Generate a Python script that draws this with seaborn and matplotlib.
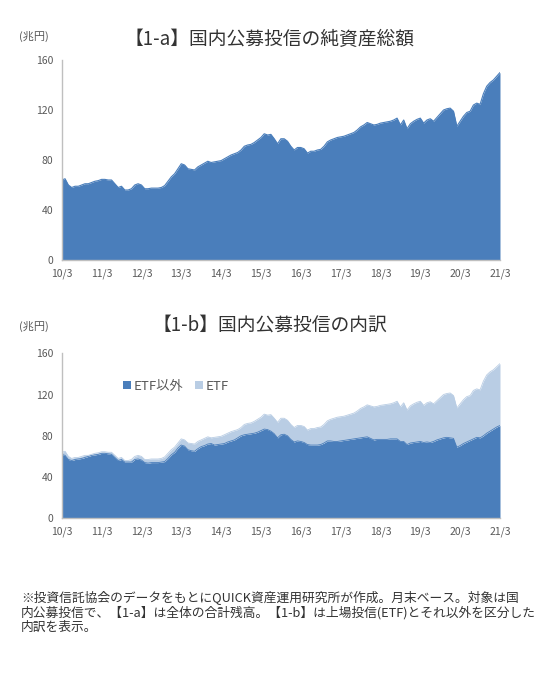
import numpy as np
import pandas as pd
import matplotlib
matplotlib.use("Agg")
import matplotlib.pyplot as plt
import seaborn as sns

# ---- data (兆円, month-end, 2010/3 .. 2021/3) ----
total = [64, 65, 60, 58, 59, 59, 60, 61, 61, 62, 63, 63.5,
         64.5, 64.5, 64, 64, 61, 58, 59, 56, 56, 57, 60, 61,
         60, 57, 57, 57.5, 57.5, 57.5, 58, 59.5, 63, 66.5, 69, 73,
         77, 76, 73, 72.5, 72, 74.5, 76, 77.5, 79, 78, 78.5, 79,
         79.5, 81, 82.5, 84, 85, 86, 88, 91, 92, 92.5, 94, 96,
         98, 101, 100, 100.5, 97, 93, 97, 97, 95, 91, 88, 90,
         90, 89, 85.5, 87, 87, 88, 88.5, 91, 94.5, 96, 97, 98,
         98.5, 99, 100, 101, 102, 104, 106.5, 108, 110, 109, 108, 108.5,
         109.5, 110, 110.5, 111, 112, 113.5, 108, 112, 105, 109, 111, 112.5,
         113.5, 109.5, 112, 113, 111, 114, 117, 120, 121, 121.5, 119, 107,
         111, 115, 118, 119, 124, 125.5, 124.5, 133, 139, 142, 144, 147,
         150]
non_etf = [62, 61, 57, 56, 57, 57.5, 58, 59, 60, 61, 61.5, 62,
           63, 63, 62.5, 62, 59, 56, 57, 54.5, 54.5, 54.5, 57, 57.5,
           56.5, 54, 53.5, 54, 54, 54, 54.5, 55, 58, 61.5, 64, 68,
           71, 70, 66.5, 65.5, 65, 67.5, 69.5, 70.5, 72, 72.5, 71, 71.5,
           72, 72.5, 74, 75, 76, 78, 80, 81, 81.5, 82, 82.5, 83.5,
           85, 86.5, 86, 84.5, 82, 78, 81, 81.5, 80, 76.5, 74, 75,
           74.5, 73.5, 71.5, 71, 71, 71, 71.5, 73, 75, 75, 74.5, 74.5,
           75, 75.5, 76, 76.5, 77, 77.5, 78, 78.5, 79, 77.5, 76, 76.5,
           76.5, 76.5, 76.5, 77, 77, 77, 74.5, 74.5, 71.5, 73, 73.5, 74,
           74.5, 73.5, 74, 73.5, 74.5, 76, 77, 78, 78.5, 78, 77.5, 69,
           70.5, 72.5, 74, 75.5, 77, 78.5, 78, 80, 82.5, 84.5, 86.5, 88.5,
           90]
year_labels = ["10/3", "11/3", "12/3", "13/3", "14/3", "15/3",
               "16/3", "17/3", "18/3", "19/3", "20/3", "21/3"]
y_ticks = [0, 40, 80, 120, 160]
title_a = "【1-a】国内公募投信の純資産総額"
title_b = "【1-b】国内公募投信の内訳"
unit = "(兆円)"
legend_labels = ["ETF以外", "ETF"]
note = ("※投資信託協会のデータをもとにQUICK資産運用研究所が作成。月末ベース。対象は国\n"
        "内公募投信で、【1-a】は全体の合計残高。【1-b】は上場投信(ETF)とそれ以外を区分した\n"
        "内訳を表示。")

df = pd.DataFrame({"m": np.arange(len(total)), "total": total, "non_etf": non_etf})
df["etf"] = df["total"] - df["non_etf"]

sns.set_theme(style="white")
plt.rcParams["font.family"] = ["Noto Sans CJK JP", "DejaVu Sans"]

DARK = "#4A7EBB"
LIGHT = "#B9CDE4"
AX = "#BFBFBF"
TXT = "#595959"

fig = plt.figure(figsize=(5.4, 6.88), dpi=100)
ax1 = fig.add_axes([0.1143, 0.6221, 0.8116, 0.2907])
ax2 = fig.add_axes([0.1143, 0.2467, 0.8116, 0.2398])


def style(ax):
    ax.set_xlim(0, len(total) - 1)
    ax.set_ylim(0, 160)
    ax.set_xticks(np.arange(0, len(total), 12))
    ax.set_xticklabels(year_labels)
    ax.set_yticks(y_ticks)
    ax.set_xlabel("")
    ax.set_ylabel("")
    for s in ["top", "right"]:
        ax.spines[s].set_visible(False)
    for s in ["left", "bottom"]:
        ax.spines[s].set_color(AX)
        ax.spines[s].set_linewidth(1.0)
    ax.tick_params(axis="both", direction="out", length=3, width=0.8,
                   color=AX, labelcolor=TXT, labelsize=7.5, pad=3)
    ax.grid(False)


# top chart
sns.lineplot(data=df, x="m", y="total", ax=ax1, color=DARK, linewidth=0.8)
ax1.fill_between(df["m"], 0, df["total"], color=DARK, linewidth=0)
style(ax1)

# bottom chart (stacked)
ax2.fill_between(df["m"], 0, df["non_etf"], color=DARK, linewidth=0, label=legend_labels[0])
ax2.fill_between(df["m"], df["non_etf"], df["total"], color=LIGHT, linewidth=0, label=legend_labels[1])
sns.lineplot(data=df, x="m", y="non_etf", ax=ax2, color=DARK, linewidth=0.6)
sns.lineplot(data=df, x="m", y="total", ax=ax2, color=LIGHT, linewidth=0.6)
style(ax2)
leg = ax2.legend(loc="center", bbox_to_anchor=(0.26, 0.8), ncol=2, frameon=False,
                 fontsize=9.5, handlelength=0.6, handleheight=0.6, handletextpad=0.2,
                 columnspacing=0.9)
for t in leg.get_texts():
    t.set_color(TXT)

# titles and units
fig.text(0.5, 0.942, title_a, ha="center", va="center", fontsize=13.5, color="#333333")
fig.text(0.063, 0.947, unit, ha="center", va="center", fontsize=8, color=TXT)
fig.text(0.5, 0.527, title_b, ha="center", va="center", fontsize=13.5, color="#333333")
fig.text(0.063, 0.525, unit, ha="center", va="center", fontsize=8, color=TXT)

fig.text(0.039, 0.1105, note, ha="left", va="center", fontsize=9.2, color="#333333",
         linespacing=1.18)

fig.savefig("out.png", dpi=100, facecolor="white")
